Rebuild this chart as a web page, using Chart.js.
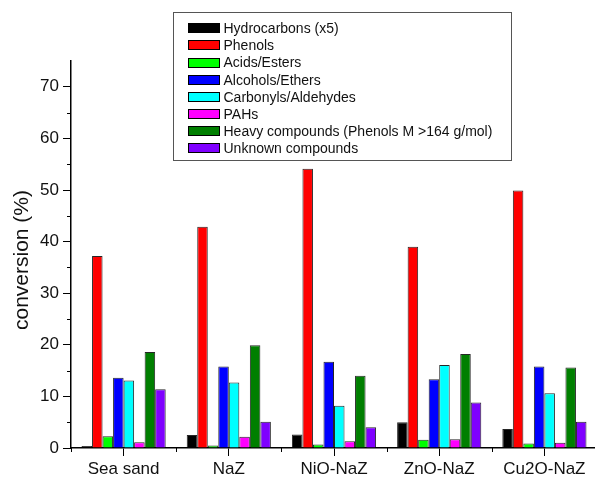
<!DOCTYPE html>
<html>
<head>
<meta charset="utf-8">
<script src="https://cdn.jsdelivr.net/npm/chart.js@4/dist/chart.umd.min.js"></script>
<style>
  html, body { margin: 0; padding: 0; background: #fff; overflow: hidden; }
  #wrap { width: 595px; height: 479px; overflow: hidden; position: relative; }
  canvas { display: block; }
</style>
</head>
<body>
<div id="wrap"><canvas id="c" width="597" height="479" style="width:597px;height:479px"></canvas></div>
<script>
const categories = ['Sea sand', 'NaZ', 'NiO-NaZ', 'ZnO-NaZ', 'Cu2O-NaZ'];
const seriesLabels = ['Hydrocarbons (x5)', 'Phenols', 'Acids/Esters', 'Alcohols/Ethers',
  'Carbonyls/Aldehydes', 'PAHs', 'Heavy compounds (Phenols M >164 g/mol)', 'Unknown compounds'];
const hydrocarbons = [0.4, 2.5, 2.6, 5.0, 3.7];
const phenols      = [37.2, 42.9, 54.1, 39.0, 49.9];
const acidsEsters  = [2.3, 0.5, 0.7, 1.6, 0.85];
const alcoholsEthers = [13.6, 15.8, 16.7, 13.3, 15.8];
const carbonyls    = [13.1, 12.7, 8.2, 16.1, 10.6];
const pahs         = [1.1, 2.2, 1.3, 1.7, 1.0];
const heavy        = [18.6, 19.9, 14.0, 18.2, 15.6];
const unknown      = [11.4, 5.1, 4.0, 8.8, 5.1];
const yMajorTicks = [0, 10, 20, 30, 40, 50, 60, 70];
const yMinorTicks = [5, 15, 25, 35, 45, 55, 65];
const yTitle = 'conversion (%)';

const seriesValues = [hydrocarbons, phenols, acidsEsters, alcoholsEthers, carbonyls, pahs, heavy, unknown];
const colors = ['#000000', '#ff0000', '#00ff00', '#0000ff', '#00ffff', '#ff00ff', '#007f00', '#7f00ff'];

const FONT = '"Liberation Sans", Arial, sans-serif';

const minorTicks = {
  id: 'minorTicks',
  afterDraw(chart) {
    const ctx = chart.ctx;
    const x = chart.scales.x, y = chart.scales.y;
    const area = chart.chartArea;
    ctx.save();
    ctx.strokeStyle = '#000';
    ctx.lineWidth = 1;
    ctx.beginPath();
    yMinorTicks.forEach(v => {
      const py = Math.round(y.getPixelForValue(v)) + 0.5;
      ctx.moveTo(area.left - 4, py);
      ctx.lineTo(area.left, py);
    });
    const half = (x.getPixelForValue(1) - x.getPixelForValue(0)) / 2;
    for (let i = 0; i < categories.length; i++) {
      const px = Math.round(x.getPixelForValue(i) - half) + 0.5;
      ctx.moveTo(px, area.bottom);
      ctx.lineTo(px, area.bottom + 4);
    }
    ctx.stroke();
    // y axis title
    ctx.fillStyle = '#111';
    ctx.font = '21px ' + FONT;
    ctx.textAlign = 'center';
    ctx.textBaseline = 'middle';
    ctx.translate(22, 260);
    ctx.rotate(-Math.PI / 2);
    ctx.fillText(yTitle, 0, 0);
    ctx.restore();
  }
};

const boxLegend = {
  id: 'boxLegend',
  afterDraw(chart) {
    const ctx = chart.ctx;
    const left = 173.5, top = 12.5, right = 511.5, bottom = 160.5;
    ctx.save();
    ctx.fillStyle = '#fff';
    ctx.fillRect(left, top, right - left, bottom - top);
    ctx.strokeStyle = '#555';
    ctx.lineWidth = 1;
    ctx.strokeRect(left, top, right - left, bottom - top);
    ctx.font = '14px ' + FONT;
    ctx.textBaseline = 'middle';
    ctx.textAlign = 'left';
    chart.data.datasets.forEach((ds, i) => {
      const cy = 28.3 + i * 17.14;
      ctx.fillStyle = ds.backgroundColor;
      ctx.fillRect(188, Math.round(cy - 5), 32, 10);
      ctx.strokeStyle = '#000';
      ctx.strokeRect(188.5, Math.round(cy - 5) + 0.5, 31, 9);
      ctx.fillStyle = '#111';
      ctx.fillText(ds.label, 223.5, cy + 1);
    });
    ctx.restore();
  }
};

new Chart(document.getElementById('c'), {
  type: 'bar',
  data: {
    labels: categories,
    datasets: seriesValues.map((vals, i) => ({
      label: seriesLabels[i],
      data: vals,
      backgroundColor: colors[i],
      borderColor: 'rgba(0,0,0,0.85)',
      borderWidth: 1,
      borderSkipped: 'bottom',
      categoryPercentage: 0.8,
      barPercentage: 1.0
    }))
  },
  options: {
    responsive: false,
    animation: false,
    devicePixelRatio: 1,
    layout: { padding: { top: 61, left: 0, right: 0, bottom: 0 } },
    plugins: { legend: { display: false }, tooltip: { enabled: false } },
    scales: {
      x: {
        type: 'category',
        offset: true,
        grid: { display: true, offset: false, drawOnChartArea: false, drawTicks: true, tickLength: 8, color: '#000', lineWidth: 1 },
        border: { display: true, color: '#000', width: 1.5 },
        ticks: { color: '#111', font: { family: FONT, size: 17 }, padding: 3, maxRotation: 0, autoSkip: false },
        afterFit(scale) { scale.height = 31; }
      },
      y: {
        min: 0,
        max: 75,
        afterBuildTicks(scale) { scale.ticks = yMajorTicks.map(v => ({ value: v })); },
        grid: { display: true, drawOnChartArea: false, drawTicks: true, tickLength: 8, color: '#000', lineWidth: 1 },
        border: { display: true, color: '#000', width: 1.5 },
        ticks: { color: '#111', font: { family: FONT, size: 17 }, padding: 4 },
        title: { display: false, text: yTitle },
        afterFit(scale) { scale.width = 71; }
      }
    }
  },
  plugins: [minorTicks, boxLegend]
});
</script>
</body>
</html>
